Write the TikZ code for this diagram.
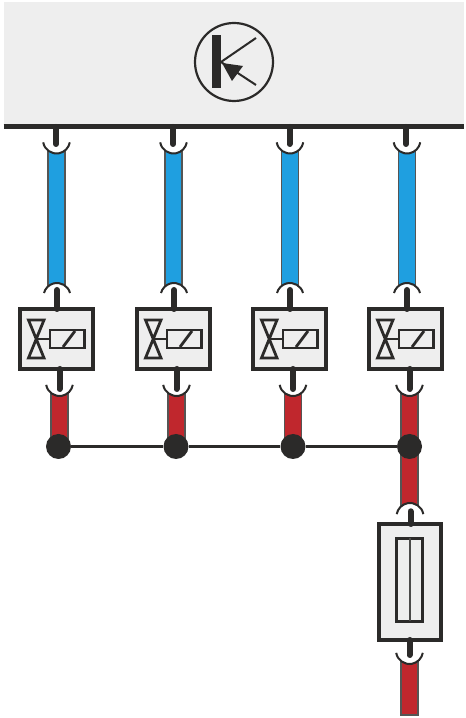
\documentclass[tikz,border=0pt]{standalone}
\definecolor{ink}{HTML}{2B2A29}
\definecolor{panel}{HTML}{EEEEEE}
\definecolor{coolant}{HTML}{1F9FE0}
\definecolor{hotline}{HTML}{C0272D}
\tikzset{
  stub/.style={line width=6pt,draw=ink,line cap=round},
  socket/.style={line width=2pt,draw=ink,fill=white},
  coolbar/.style={line width=1.5pt,draw=ink!80,fill=coolant},
  hotbar/.style={line width=1.5pt,draw=ink!80,fill=hotline},
  unitbox/.style={rectangle,draw=ink,line width=4.5pt,fill=panel,inner sep=0pt,outer sep=0pt},
  joint/.style={circle,fill=ink,minimum size=25pt,inner sep=0pt},
  symbolline/.style={line width=2.8pt,draw=ink}
}
\begin{document}
\begin{tikzpicture}[x=1pt,y=1pt]
\useasboundingbox (0,0) rectangle (466,718);
\node[fill=panel,minimum width=460pt,minimum height=125pt,inner sep=0pt,outer sep=0pt] (ctrl) at (233.5,653.5) {};
\draw[line width=5pt,draw=ink] (ctrl.south west) -- (ctrl.south east);
\node[circle,draw=ink,line width=2.2pt,minimum size=78pt,inner sep=0pt] (relay) at (234,656) {};
\fill[ink] (212,630) rectangle (221,683);
\coordinate (base) at (221,656);
\draw[line width=2pt,draw=ink] (base) -- (256,680);
\draw[line width=2pt,draw=ink] (base) -- (256,633);
\fill[ink] (222,655) -- (243,652) -- (232,637) -- cycle;
\draw[coolbar] (48,574) rectangle (65,428);
\draw[coolbar] (165,574) rectangle (182,428);
\draw[coolbar] (281.5,574) rectangle (298.5,428);
\draw[coolbar] (398.5,574) rectangle (415.5,428);
\draw[hotbar] (51,331) rectangle (68,271.5);
\draw[hotbar] (168,331) rectangle (185,271.5);
\draw[hotbar] (284.5,331) rectangle (301.5,271.5);
\draw[hotbar] (401,331) rectangle (418,206);
\draw[hotbar] (401,63.5) rectangle (418,3);
\draw[socket] (56.5,578) ++(190:13.5) arc (190:350:13.5);
\draw[socket] (173.5,578) ++(190:13.5) arc (190:350:13.5);
\draw[socket] (290,578) ++(190:13.5) arc (190:350:13.5);
\draw[socket] (407,578) ++(190:13.5) arc (190:350:13.5);
\draw[socket] (57,421.5) ++(15:13.5) arc (15:165:13.5);
\draw[socket] (174,421.5) ++(15:13.5) arc (15:165:13.5);
\draw[socket] (290,421.5) ++(15:13.5) arc (15:165:13.5);
\draw[socket] (407,421.5) ++(15:13.5) arc (15:165:13.5);
\draw[socket] (59.5,335.5) ++(190:13.5) arc (190:350:13.5);
\draw[socket] (176.5,335.5) ++(190:13.5) arc (190:350:13.5);
\draw[socket] (293,335.5) ++(190:13.5) arc (190:350:13.5);
\draw[socket] (409.5,335.5) ++(190:13.5) arc (190:350:13.5);
\draw[socket] (410,201.5) ++(10:13.5) arc (10:170:13.5);
\draw[socket] (409.5,67.5) ++(190:13.5) arc (190:350:13.5);
\node[unitbox,minimum width=73pt,minimum height=60pt] (valvea) at (56.5,379) {};
\node[unitbox,minimum width=73pt,minimum height=60pt] (valveb) at (173.5,379) {};
\node[unitbox,minimum width=73pt,minimum height=60pt] (valvec) at (289.5,379) {};
\node[unitbox,minimum width=73pt,minimum height=60pt] (valved) at (405.5,379) {};
\node[unitbox,minimum width=62pt,minimum height=116pt] (fuse) at (410,136) {};
\node[rectangle,draw=ink,line width=3pt,minimum width=26pt,minimum height=83pt,inner sep=0pt,outer sep=0pt] (fusecore) at (409.5,138) {};
\draw[line width=2pt,draw=ink!85] (fusecore.north) -- (fusecore.south);
\node[joint] (dota) at (58.5,271.5) {};
\node[joint] (dotb) at (176,271.5) {};
\node[joint] (dotc) at (293,271.5) {};
\node[joint] (dotd) at (409.5,271.5) {};
\draw[line width=3pt,draw=ink] (dota) -- (dotb);
\draw[line width=3pt,draw=ink] (dotb) -- (dotc);
\draw[line width=3pt,draw=ink] (dotc) -- (dotd);
\coordinate (topa) at (56,574);
\coordinate (topb) at (173,574);
\coordinate (topc) at (289.5,574);
\coordinate (topd) at (406,574);
\draw[stub] (topa |- ctrl.south) -- (topa);
\draw[stub] (topb |- ctrl.south) -- (topb);
\draw[stub] (topc |- ctrl.south) -- (topc);
\draw[stub] (topd |- ctrl.south) -- (topd);
\coordinate (ina) at (57,428);
\coordinate (inb) at (174,428);
\coordinate (inc) at (290,428);
\coordinate (ind) at (407,428);
\draw[stub] (ina |- valvea.north) -- (ina);
\draw[stub] (inb |- valveb.north) -- (inb);
\draw[stub] (inc |- valvec.north) -- (inc);
\draw[stub] (ind |- valved.north) -- (ind);
\coordinate (outa) at (59.5,329);
\coordinate (outb) at (176.5,329);
\coordinate (outc) at (293,329);
\coordinate (outd) at (409.5,329);
\draw[stub] (outa |- valvea.south) -- (outa);
\draw[stub] (outb |- valveb.south) -- (outb);
\draw[stub] (outc |- valvec.south) -- (outc);
\draw[stub] (outd |- valved.south) -- (outd);
\coordinate (fusein) at (410.5,206.7);
\coordinate (fuseout) at (409.5,63);
\draw[stub] (fusein |- fuse.north) -- (fusein);
\draw[stub] (fuseout |- fuse.south) -- (fuseout);
\draw[symbolline] (28.5,398) -- (44,398) -- (28.5,360) -- (44,360) -- cycle;
\draw[symbolline] (36,379) -- (50,379);
\draw[symbolline,fill=panel] (50,370) rectangle (84.5,388);
\draw[symbolline] (63,371) -- (75,387);
\draw[symbolline] (145.5,398) -- (161,398) -- (145.5,360) -- (161,360) -- cycle;
\draw[symbolline] (153,379) -- (167,379);
\draw[symbolline,fill=panel] (167,370) rectangle (201.5,388);
\draw[symbolline] (180,371) -- (192,387);
\draw[symbolline] (261.5,398) -- (277,398) -- (261.5,360) -- (277,360) -- cycle;
\draw[symbolline] (269,379) -- (283,379);
\draw[symbolline,fill=panel] (283,370) rectangle (317.5,388);
\draw[symbolline] (296,371) -- (308,387);
\draw[symbolline] (377.5,398) -- (393,398) -- (377.5,360) -- (393,360) -- cycle;
\draw[symbolline] (385,379) -- (399,379);
\draw[symbolline,fill=panel] (399,370) rectangle (433.5,388);
\draw[symbolline] (412,371) -- (424,387);
\end{tikzpicture}
\end{document}
